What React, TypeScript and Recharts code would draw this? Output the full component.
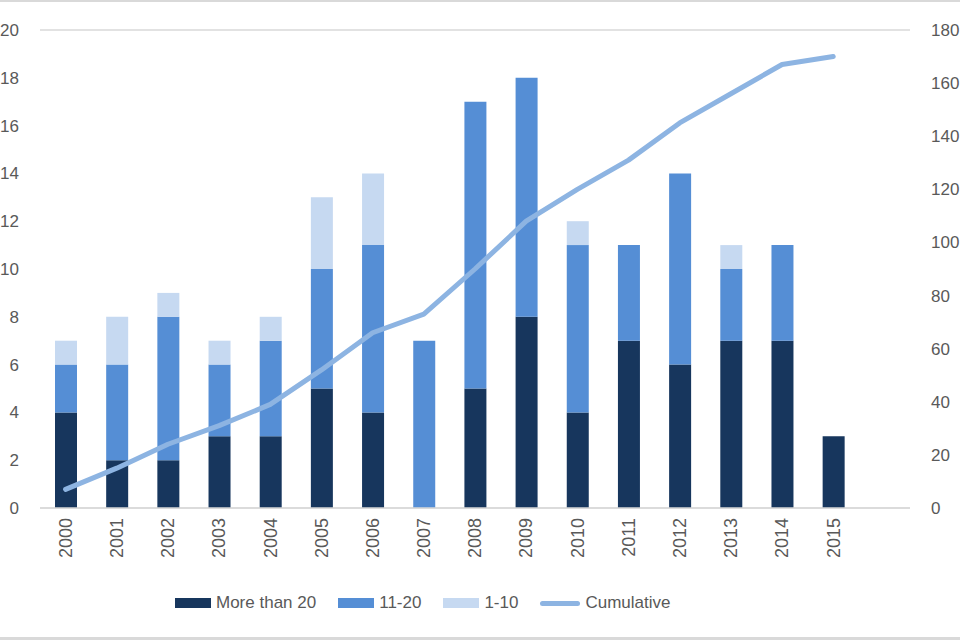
import React from 'react';
import { ComposedChart, Bar, Line, XAxis, YAxis, CartesianGrid, Legend } from 'recharts';

// last slot is empty in the source chart, so the bars sit left of centre
const years = ['2000', '2001', '2002', '2003', '2004', '2005', '2006', '2007', '2008', '2009', '2010', '2011', '2012', '2013', '2014', '2015', ''];
const moreThan20 = [4, 2, 2, 3, 3, 5, 4, 0, 5, 8, 4, 7, 6, 7, 7, 3, null];
const from11to20 = [2, 4, 6, 3, 4, 5, 7, 7, 12, 10, 7, 4, 8, 3, 4, 0, null];
const from1to10 = [1, 2, 1, 1, 1, 3, 3, 0, 0, 0, 1, 0, 0, 1, 0, 0, null];
const cumulative = [7, 15, 24, 31, 39, 52, 66, 73, 90, 108, 120, 131, 145, 156, 167, 170, null];

const leftTicks = [0, 2, 4, 6, 8, 10, 12, 14, 16, 18, 20];
const rightTicks = [0, 20, 40, 60, 80, 100, 120, 140, 160, 180];

const colors = {
  dark: '#17365D',
  mid: '#558ED5',
  light: '#C6D9F1',
  line: '#8DB4E2',
  grid: '#D9D9D9',
  text: '#595959',
};

const font = '"Liberation Sans", Arial, sans-serif';

const chartData = years.map((year, i) => ({
  year,
  more20: moreThan20[i],
  mid: from11to20[i],
  low: from1to10[i],
  cumulative: cumulative[i],
}));

const YearTick = ({ x, y, payload }: any) => (
  <g transform={`translate(${x},${y})`}>
    <text
      transform="rotate(-90)"
      x={-4}
      y={0}
      dy="0.35em"
      textAnchor="end"
      fill={colors.text}
      fontSize={18}
      fontFamily={font}
    >
      {payload.value}
    </text>
  </g>
);

const legendItems = [
  { label: 'More than 20', color: colors.dark, type: 'rect' },
  { label: '11-20', color: colors.mid, type: 'rect' },
  { label: '1-10', color: colors.light, type: 'rect' },
  { label: 'Cumulative', color: colors.line, type: 'line' },
];

const CustomLegend = () => (
  <div
    style={{
      height: 40,
      display: 'flex',
      alignItems: 'center',
      paddingLeft: 175,
      gap: 22,
      fontFamily: font,
      fontSize: 17,
      color: colors.text,
    }}
  >
    {legendItems.map(item => (
      <div key={item.label} style={{ display: 'flex', alignItems: 'center', gap: 5 }}>
        {item.type === 'rect' ? (
          <span style={{ display: 'inline-block', width: 36, height: 10, background: item.color }} />
        ) : (
          <span style={{ display: 'inline-block', width: 40, height: 5, borderRadius: 3, background: item.color }} />
        )}
        <span>{item.label}</span>
      </div>
    ))}
  </div>
);

export default function App() {
  return (
    <div style={{ position: 'absolute', left: 0, top: 0, width: 960, height: 640, background: '#fff' }}>
      <div style={{ position: 'absolute', left: 0, top: 0, width: 960, height: 2, background: colors.grid }} />
      <div style={{ position: 'absolute', left: 0, top: 637, width: 960, height: 3, background: colors.grid }} />
      <ComposedChart
        width={960}
        height={640}
        data={chartData}
        margin={{ top: 30, right: 0, left: 0, bottom: 17 }}
        barSize={22}
      >
        <CartesianGrid vertical={false} stroke={colors.grid} strokeWidth={1.5} />
        <XAxis
          dataKey="year"
          axisLine={{ stroke: colors.grid, strokeWidth: 1.5 }}
          tickLine={false}
          tickMargin={0}
          interval={0}
          height={75}
          tick={<YearTick />}
        />
        <YAxis
          yAxisId="left"
          domain={[0, 20]}
          ticks={leftTicks}
          width={40}
          axisLine={false}
          tickLine={false}
          tickMargin={15}
          tick={{ fill: colors.text, fontSize: 17, fontFamily: font }}
        />
        <YAxis
          yAxisId="right"
          orientation="right"
          domain={[0, 180]}
          ticks={rightTicks}
          width={50}
          axisLine={false}
          tickLine={false}
          tickMargin={15}
          tick={{ fill: colors.text, fontSize: 17, fontFamily: font, textAnchor: 'start' }}
        />
        <Legend verticalAlign="bottom" content={<CustomLegend />} />
        <Bar yAxisId="left" dataKey="more20" name="More than 20" stackId="a" fill={colors.dark} isAnimationActive={false} />
        <Bar yAxisId="left" dataKey="mid" name="11-20" stackId="a" fill={colors.mid} isAnimationActive={false} />
        <Bar yAxisId="left" dataKey="low" name="1-10" stackId="a" fill={colors.light} isAnimationActive={false} />
        <Line
          yAxisId="right"
          dataKey="cumulative"
          name="Cumulative"
          type="linear"
          stroke={colors.line}
          strokeWidth={5}
          strokeLinejoin="round"
          strokeLinecap="round"
          dot={false}
          activeDot={false}
          isAnimationActive={false}
        />
      </ComposedChart>
    </div>
  );
}
